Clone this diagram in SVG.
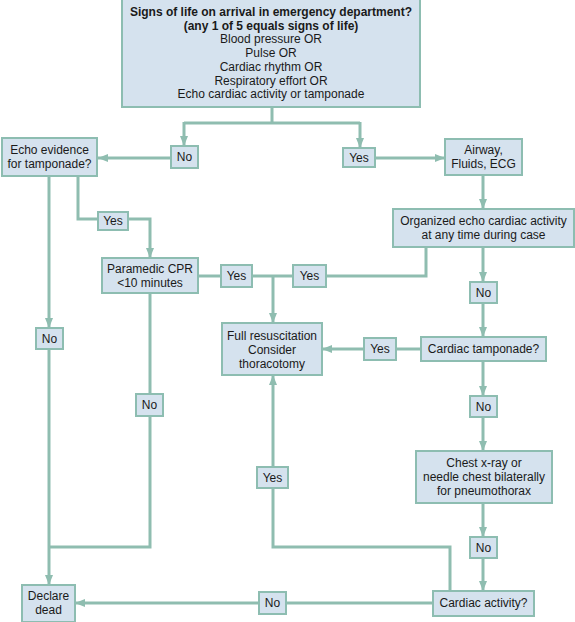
<svg xmlns="http://www.w3.org/2000/svg" width="575" height="622" viewBox="0 0 575 622">
<defs>
<marker id="ah" markerUnits="userSpaceOnUse" markerWidth="12" markerHeight="10" refX="10" refY="4" orient="auto">
<path d="M0,0 L10,4 L0,8 Z" fill="#8fbdb0"/>
</marker>
<style>
.box{fill:#d5e2ee;stroke:#8dbdb1;stroke-width:2}
.ln{fill:none;stroke:#8fbdb0;stroke-width:3}
.ar{fill:none;stroke:#8fbdb0;stroke-width:3;marker-end:url(#ah)}
text{font-family:"Liberation Sans",Arial,sans-serif;font-size:12px;fill:#1a1a1a;text-anchor:middle}
.b{font-weight:bold}
</style>
</defs>
<rect width="575" height="622" fill="#ffffff"/>
<g id="connectors">
<path class="ln" d="M272,107 V123 M184,123 H360"/>
<path class="ar" d="M184,122 V146"/>
<path class="ar" d="M360,122 V148"/>
<path class="ar" d="M171,158 H98"/>
<path class="ar" d="M375,158 H445"/>
<path class="ar" d="M483,175 V209"/>
<path class="ln" d="M426,247 V276 H326"/>
<path class="ln" d="M293,276 H252"/>
<path class="ln" d="M198,276 H221"/>
<path class="ar" d="M273,276 V323"/>
<path class="ar" d="M483,247 V282"/>
<path class="ar" d="M483,303 V337"/>
<path class="ln" d="M421,349 H396"/>
<path class="ar" d="M364,349 H322"/>
<path class="ar" d="M483,361 V396"/>
<path class="ar" d="M483,417 V451"/>
<path class="ar" d="M483,503 V537"/>
<path class="ar" d="M483,558 V591"/>
<path class="ln" d="M450,591 V547 H273 V467"/>
<path class="ar" d="M273,467 V375"/>
<path class="ln" d="M433,603 H286"/>
<path class="ar" d="M259,603 H75"/>
<path class="ar" d="M49,176 V328"/>
<path class="ar" d="M49,349 V585"/>
<path class="ln" d="M78,176 V219 H98"/>
<path class="ar" d="M128,219 H150 V258"/>
<path class="ln" d="M150,293 V394"/>
<path class="ln" d="M150,416 V547 H49"/>
</g>
<g id="signs-of-life">
<rect class="box" x="122" y="-1" width="298" height="108"/>
<text class="b" x="271" y="16">Signs of life on arrival in emergency department?</text>
<text class="b" x="271" y="30">(any 1 of 5 equals signs of life)</text>
<text x="271" y="43">Blood pressure OR</text>
<text x="271" y="57">Pulse OR</text>
<text x="271" y="71">Cardiac rhythm OR</text>
<text x="271" y="85">Respiratory effort OR</text>
<text x="271" y="98">Echo cardiac activity or tamponade</text>
</g>
<g id="no-1"><rect class="box" x="171" y="146" width="27" height="22"/><text x="184.5" y="161">No</text></g>
<g id="yes-1"><rect class="box" x="343" y="148" width="32" height="19"/><text x="359" y="162">Yes</text></g>
<g id="echo-evidence"><rect class="box" x="2" y="138" width="95" height="38"/><text x="49.5" y="154">Echo evidence</text><text x="49.5" y="168">for tamponade?</text></g>
<g id="airway"><rect class="box" x="445" y="139" width="77" height="36"/><text x="483.5" y="154">Airway,</text><text x="483.5" y="168">Fluids, ECG</text></g>
<g id="organized"><rect class="box" x="393" y="209" width="181" height="38"/><text x="483.5" y="225">Organized echo cardiac activity</text><text x="483.5" y="239">at any time during case</text></g>
<g id="yes-2"><rect class="box" x="98" y="212" width="30" height="18"/><text x="113" y="225">Yes</text></g>
<g id="paramedic"><rect class="box" x="102" y="258" width="96" height="35"/><text x="150" y="273">Paramedic CPR</text><text x="150" y="287">&lt;10 minutes</text></g>
<g id="yes-3"><rect class="box" x="221" y="265" width="31" height="22"/><text x="236.5" y="280">Yes</text></g>
<g id="yes-4"><rect class="box" x="293" y="265" width="33" height="22"/><text x="309.5" y="280">Yes</text></g>
<g id="no-2"><rect class="box" x="470" y="282" width="27" height="21"/><text x="483.5" y="297">No</text></g>
<g id="full-resus"><rect class="box" x="222" y="323" width="100" height="52"/><text x="272" y="340">Full resuscitation</text><text x="272" y="354">Consider</text><text x="272" y="368">thoracotomy</text></g>
<g id="yes-5"><rect class="box" x="364" y="338" width="32" height="22"/><text x="380" y="353">Yes</text></g>
<g id="cardiac-tamponade"><rect class="box" x="421" y="337" width="125" height="24"/><text x="483.5" y="353">Cardiac tamponade?</text></g>
<g id="no-3"><rect class="box" x="36" y="328" width="27" height="21"/><text x="49.5" y="343">No</text></g>
<g id="no-4"><rect class="box" x="470" y="396" width="27" height="21"/><text x="483.5" y="411">No</text></g>
<g id="no-5"><rect class="box" x="136" y="394" width="27" height="22"/><text x="149.5" y="409">No</text></g>
<g id="chest"><rect class="box" x="416" y="451" width="136" height="52"/><text x="484" y="467">Chest x-ray or</text><text x="484" y="481">needle chest bilaterally</text><text x="484" y="495">for pneumothorax</text></g>
<g id="yes-6"><rect class="box" x="257" y="467" width="31" height="21"/><text x="272.5" y="482">Yes</text></g>
<g id="no-6"><rect class="box" x="470" y="537" width="27" height="21"/><text x="483.5" y="552">No</text></g>
<g id="cardiac-activity"><rect class="box" x="433" y="591" width="101" height="25"/><text x="483.5" y="607">Cardiac activity?</text></g>
<g id="no-7"><rect class="box" x="259" y="592" width="27" height="22"/><text x="272.5" y="607">No</text></g>
<g id="declare-dead"><rect class="box" x="22" y="585" width="53" height="37"/><text x="48.5" y="600">Declare</text><text x="48.5" y="614">dead</text></g>
</svg>
